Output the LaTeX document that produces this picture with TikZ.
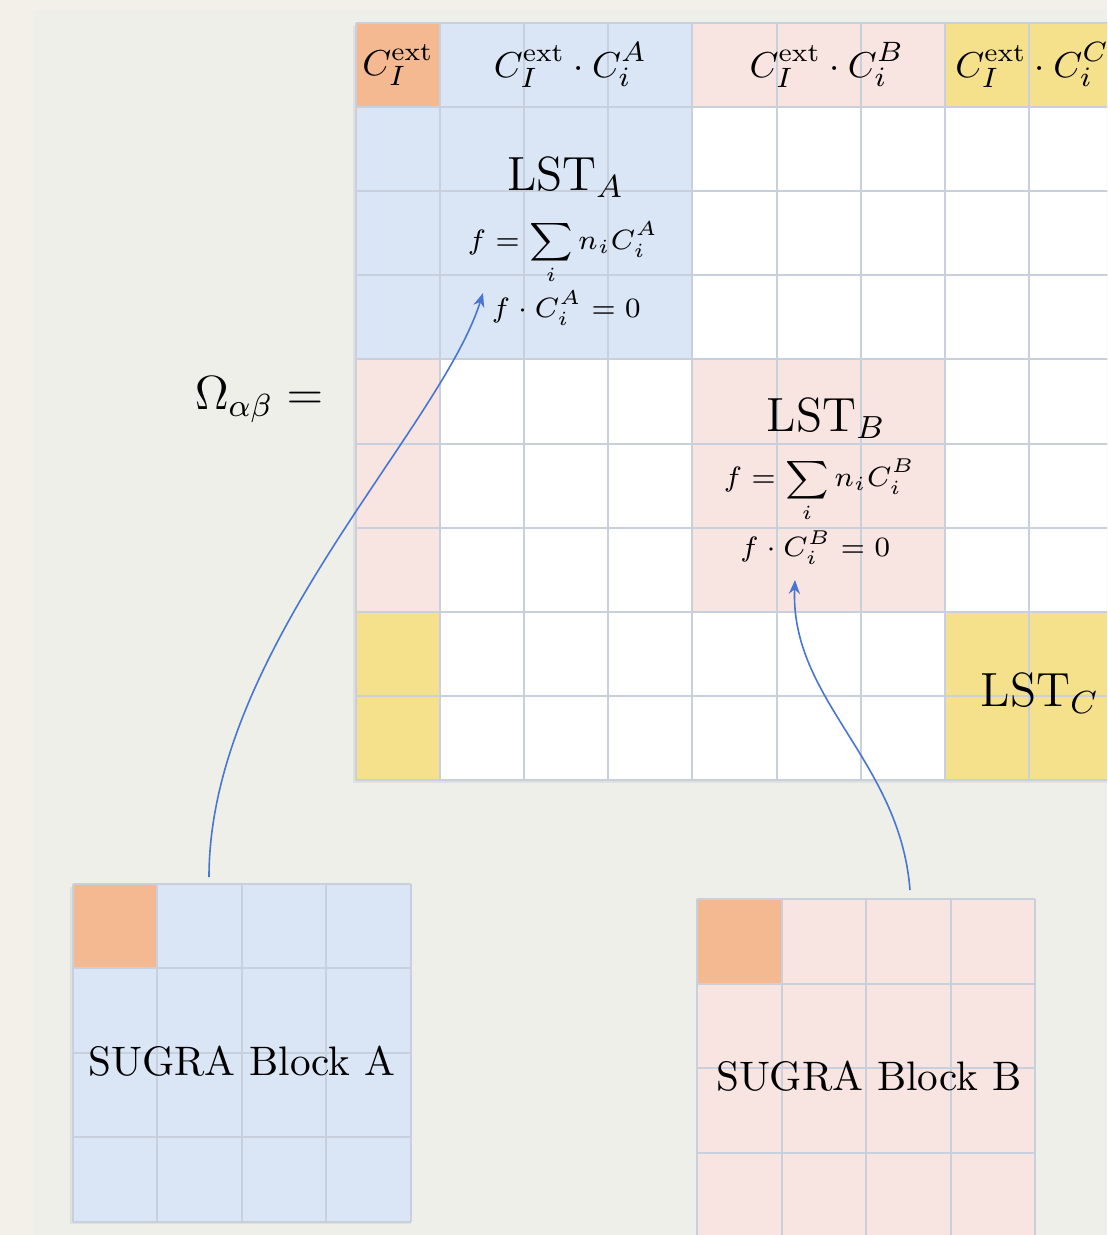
\documentclass[tikz,border=0pt]{standalone}
\usepackage{amsmath}
\usepackage{tikz}
\usetikzlibrary{arrows.meta}
\definecolor{bgout}{RGB}{243,239,233}
\definecolor{bgin}{RGB}{239,239,233}
\definecolor{orng}{RGB}{244,185,144}
\definecolor{blu}{RGB}{218,229,245}
\definecolor{pnk}{RGB}{248,228,224}
\definecolor{ylw}{RGB}{245,225,140}
\definecolor{gridc}{RGB}{200,207,221}
\definecolor{arrc}{RGB}{72,118,208}

\begin{document}
\begin{tikzpicture}[x=0.25pt,y=-0.25pt,
  cellline/.style={gridc,line width=0.5pt},
  lbl/.style={inner sep=0pt,font=\large},
  hdr/.style={inner sep=0pt,font=\fontsize{9.3}{11}\selectfont},
  frm/.style={inner sep=0pt,font=\fontsize{6.7}{8}\selectfont},
  blk/.style={inner sep=0pt,font=\fontsize{10.3}{12}\selectfont},
  link/.style={arrc,line width=0.4pt,-{Stealth[length=3.5pt,width=2.8pt]}}]
\useasboundingbox (0,0) rectangle (1107,1235);
\clip (0,0) rectangle (1107,1235);
\fill[bgout] (0,0) rectangle (1107,1235);
\fill[bgin] (33,10) rectangle (1107,1235);
% the big matrix
\begin{scope}[shift={(356,23)},x=21.03pt,y=-21.03pt]
\fill[black!12] (-0.04,0.04) rectangle (9,9.04);
\fill[white] (0,0) rectangle (9,9);
\fill[orng] (0,0) rectangle (1,1);
\fill[blu] (1,0) rectangle (4,4) (0,1) rectangle (1,4);
\fill[pnk] (4,0) rectangle (7,1) (4,4) rectangle (7,7) (0,4) rectangle (1,7);
\fill[ylw] (7,0) rectangle (9,1) (7,7) rectangle (9,9) (0,7) rectangle (1,9);
\foreach \i in {0,...,9} {
  \draw[cellline] (\i,0) -- (\i,9);
  \draw[cellline] (0,\i) -- (9,\i);
}
\node[hdr] (hI) at (0.5,0.5) {$C_I^{\text{ext}}$};
\node[hdr] (hA) at (2.55,0.5) {$C_I^{\text{ext}}\cdot C_i^A$};
\node[hdr] (hB) at (5.6,0.5) {$C_I^{\text{ext}}\cdot C_i^B$};
\node[hdr] (hC) at (8.04,0.5) {$C_I^{\text{ext}}\cdot C_i^C$};
\node[lbl] (lstA) at (2.49,1.83) {LST$_A$};
\node[frm] (sumA) at (2.46,2.74) {$f=\displaystyle\sum_i n_iC_i^A$};
\node[frm] (ortA) at (2.50,3.39) {$f\cdot C_i^A=0$};
\node[lbl] (lstB) at (5.59,4.70) {LST$_B$};
\node[frm] (sumB) at (5.51,5.56) {$f=\displaystyle\sum_i n_iC_i^B$};
\node[frm] (ortB) at (5.46,6.24) {$f\cdot C_i^B=0$};
\node[lbl] (lstC) at (8.13,7.97) {LST$_C$};
\end{scope}
\node[lbl] (omega) at (259,400) {$\Omega_{\alpha\beta}=$};
% SUGRA block A
\begin{scope}[shift={(73,884)},x=21.1pt,y=-21.1pt]
\fill[black!12] (-0.03,0.03) rectangle (4,4.03);
\fill[blu] (0,0) rectangle (4,4);
\fill[orng] (0,0) rectangle (1,1);
\foreach \i in {0,...,4} {
  \draw[cellline] (\i,0) -- (\i,4);
  \draw[cellline] (0,\i) -- (4,\i);
}
\node[blk] (sugraA) at (2.0,2.1) {SUGRA Block A};
\end{scope}
% SUGRA block B
\begin{scope}[shift={(697,899)},x=21.15pt,y=-21.15pt]
\fill[pnk] (0,0) rectangle (4,4);
\fill[orng] (0,0) rectangle (1,1);
\foreach \i in {0,...,4} {
  \draw[cellline] (\i,0) -- (\i,4);
  \draw[cellline] (0,\i) -- (4,\i);
}
\node[blk] (sugraB) at (2.03,2.1) {SUGRA Block B};
\end{scope}
% links
\coordinate (fromA) at (209,877);
\coordinate (toA) at (483,293);
\coordinate (fromB) at (910,890);
\coordinate (toB) at (795,580);
\draw[link] (fromA) .. controls (209,650) and (440,430) .. (toA);
\draw[link] (fromB) .. controls (900,760) and (790,700) .. (toB);
\end{tikzpicture}
\end{document}
